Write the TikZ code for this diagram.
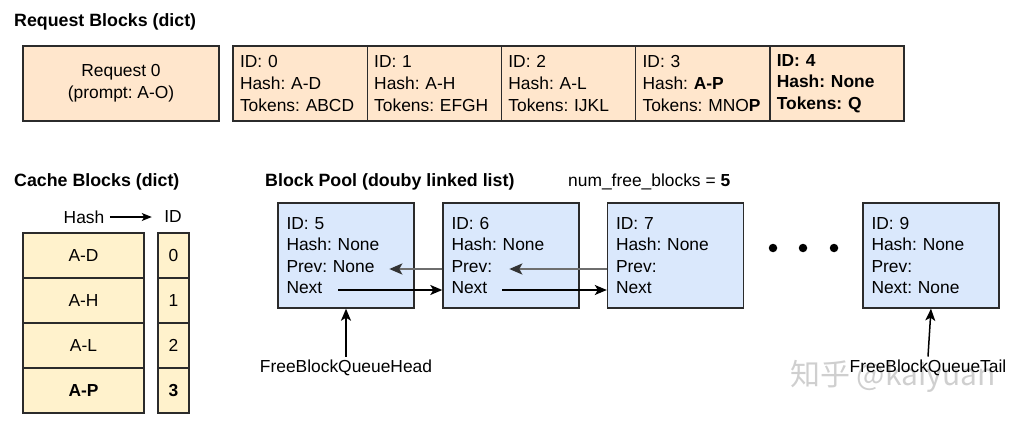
\documentclass[tikz,border=0pt]{standalone}
\usepackage{fontspec}
\setmainfont{Liberation Sans}
\newfontfamily\cjk{Noto Sans CJK SC}
\usetikzlibrary{arrows.meta,calc}
\definecolor{reqfill}{HTML}{FFE6CC}
\definecolor{cachefill}{HTML}{FFF2CC}
\definecolor{poolfill}{HTML}{DAE8FC}
\definecolor{edgecol}{HTML}{2B2B2B}
\definecolor{prevcol}{HTML}{6E6E6E}
\definecolor{prevtip}{HTML}{333333}
\definecolor{wmcol}{HTML}{CFCFCF}
\frenchspacing
\hbadness=10000
\begin{document}
\begin{tikzpicture}[x=1pt,y=-1pt,
  every node/.style={font=\fontsize{17.4}{21.6}\selectfont},
  title/.style={anchor=west,inner sep=0pt,font=\fontsize{17.8}{21}\selectfont\bfseries},
  plain/.style={anchor=west,inner sep=0pt},
  reqcell/.style={draw=edgecol,line width=1.4pt,fill=reqfill,minimum height=75pt,
    text width=120.2pt,inner xsep=7pt,align=left},
  reqhead/.style={draw=edgecol,line width=1.4pt,fill=reqfill,minimum height=75pt,
    minimum width=196pt,align=center},
  hashcell/.style={draw=edgecol,line width=1.4pt,fill=cachefill,minimum height=45pt,minimum width=121pt},
  idcell/.style={draw=edgecol,line width=1.4pt,fill=cachefill,minimum height=45pt,minimum width=31pt},
  poolbox/.style={draw=edgecol,line width=1.4pt,fill=poolfill,minimum height=105pt,
    text width=119pt,inner xsep=8.5pt,align=left},
  nextarr/.style={-{Stealth[length=12pt,width=10pt,inset=3pt]},line width=1.5pt,black},
  prevarr/.style={-{Stealth[length=13pt,width=11pt,inset=3pt,color=prevtip]},line width=2.2pt,prevcol},
  uparr/.style={-{Stealth[length=12pt,width=10pt,inset=3pt]},line width=1.5pt,black},
  dot/.style={circle,fill=black,minimum size=8.5pt,inner sep=0pt},
  wm/.style={text=wmcol,font=\fontsize{30}{32}\selectfont\cjk}
]
\useasboundingbox (0,0) rectangle (1029,423);

% ---- Request blocks ----
\node[title] (t1) at (14,22) {Request Blocks (dict)};
\node[reqhead] (r) at (121,83.5) {Request 0\\(prompt: A-O)};
\node[reqcell] (r0) at (300.1,83.5) {ID: 0\\Hash: A-D\\Tokens: ABCD};
\node[reqcell] (r1) at (434.3,83.5) {ID: 1\\Hash: A-H\\Tokens: EFGH};
\node[reqcell] (r2) at (568.5,83.5) {ID: 2\\Hash: A-L\\Tokens: IJKL};
\node[reqcell] (r3) at (702.7,83.5) {ID: 3\\Hash: \textbf{A-P}\\Tokens: MNO\textbf{P}};
\node[reqcell] (r4) at (836.9,83.5) {\textbf{ID: 4}\\\textbf{Hash: None}\\\textbf{Tokens: Q}};

% ---- Cache blocks ----
\node[title] (t2) at (14,182) {Cache Blocks (dict)};
\node (hh) at (84,217) {Hash};
\node (hi) at (173,217) {ID};
\draw[-{Stealth[length=10pt,width=8pt,inset=2.5pt]},line width=1.2pt,shorten <=2pt,shorten >=9pt] (hh.east) -- (hi.west);
\node[hashcell] (h0) at (83.5,255.5) {A-D};
\node[hashcell] (h1) at (83.5,300.5) {A-H};
\node[hashcell] (h2) at (83.5,345.5) {A-L};
\node[hashcell] (h3) at (83.5,390.5) {\textbf{A-P}};
\node[idcell] (i0) at (173.5,255.5) {0};
\node[idcell] (i1) at (173.5,300.5) {1};
\node[idcell] (i2) at (173.5,345.5) {2};
\node[idcell] (i3) at (173.5,390.5) {\textbf{3}};

% ---- Block pool ----
\node[title] (t3) at (265,182) {Block Pool (douby linked list)};
\node[plain] (nf) at (568,182) {num\_free\_blocks = \textbf{5}};
\node[poolbox] (b5) at (346,255.5) {ID: 5\\Hash: None\\Prev: None\\Next};
\node[poolbox] (b6) at (511,255.5) {ID: 6\\Hash: None\\Prev:\\Next};
\node[poolbox] (b7) at (675.5,255.5) {ID: 7\\Hash: None\\Prev:\\Next};
\node[poolbox] (b9) at (931,255.5) {ID: 9\\Hash: None\\Prev:\\Next: None};
\node[dot] (d1) at (773,248) {};
\node[dot] (d2) at (803,248) {};
\node[dot] (d3) at (834,248) {};

\coordinate (n5) at ($(b5.west)+(61,34.5)$);
\coordinate (n6) at ($(b6.west)+(60,34.5)$);
\coordinate (p5) at ($(b5.west)+(112,13.5)$);
\coordinate (p6) at ($(b6.west)+(67,13.5)$);
\draw[nextarr] (n5) -- (b6.west |- n5);
\draw[nextarr] (n6) -- (b7.west |- n6);
\draw[prevarr] (b6.west |- p5) -- (p5);
\draw[prevarr] (b7.west |- p6) -- (p6);

\node[wm] (wm) at (893,376) {知乎 @kaiyuan};
\node (head) at (346,368) {FreeBlockQueueHead};
\node (tail) at (928,368) {FreeBlockQueueTail};
\draw[uparr] (head.north) -- (b5.south);
\draw[uparr] (tail.north) -- (b9.south);
\end{tikzpicture}
\end{document}
